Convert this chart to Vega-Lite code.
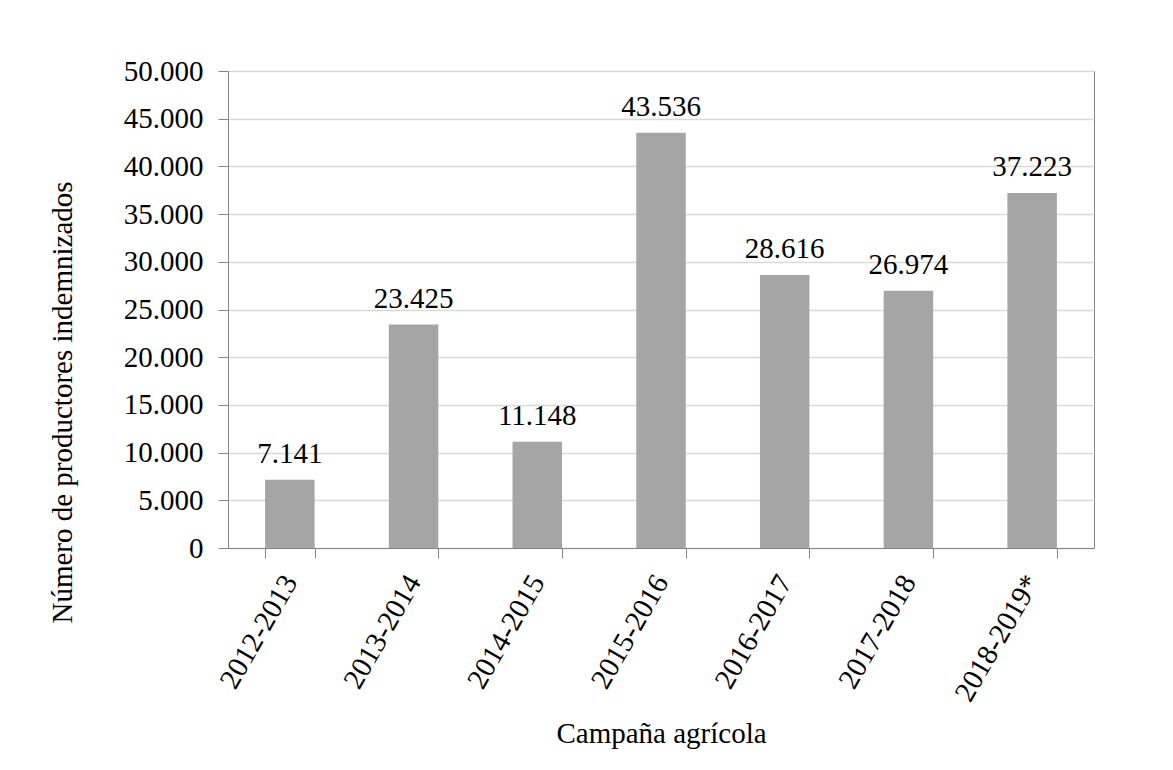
{
  "$schema": "https://vega.github.io/schema/vega-lite/v6.json",
  "width": 866,
  "height": 477,
  "autosize": {"type": "none"},
  "padding": {"left": 228, "top": 71, "right": 79, "bottom": 222},
  "background": "white",
  "data": {
    "values": [
      {"campana": "2012-2013", "productores": 7141},
      {"campana": "2013-2014", "productores": 23425},
      {"campana": "2014-2015", "productores": 11148},
      {"campana": "2015-2016", "productores": 43536},
      {"campana": "2016-2017", "productores": 28616},
      {"campana": "2017-2018", "productores": 26974},
      {"campana": "2018-2019*", "productores": 37223}
    ]
  },
  "encoding": {
    "x": {
      "field": "campana",
      "type": "nominal",
      "sort": null,
      "scale": {"paddingInner": 0.6, "paddingOuter": 0.3},
      "axis": {
        "title": "Campaña agrícola",
        "labelAngle": -60,
        "labelAlign": "right",
        "labelBaseline": "middle",
        "labelPadding": 19,
        "tickBand": "extent",
        "tickSize": 10,
        "titleX": 433,
        "titleY": 185,
        "titleAlign": "center",
        "titleBaseline": "middle"
      }
    },
    "y": {
      "field": "productores",
      "type": "quantitative",
      "scale": {"domain": [0, 50000], "nice": false},
      "axis": {
        "title": "Número de productores indemnizados",
        "values": [0, 5000, 10000, 15000, 20000, 25000, 30000, 35000, 40000, 45000, 50000],
        "format": ",.0f",
        "grid": true,
        "tickSize": 10,
        "labelPadding": 15,
        "titleX": -166,
        "titleY": 331,
        "titleAngle": -90,
        "titleAlign": "center",
        "titleBaseline": "middle"
      }
    }
  },
  "layer": [
    {"mark": {"type": "bar", "color": "#a5a5a5"}},
    {
      "mark": {"type": "text", "baseline": "alphabetic", "dy": -17, "color": "#000000", "font": "Liberation Serif", "fontSize": 29},
      "encoding": {"text": {"field": "productores", "type": "quantitative", "format": ",.0f"}}
    }
  ],
  "config": {
    "locale": {"number": {"decimal": ",", "thousands": ".", "grouping": [3], "currency": ["", " €"]}},
    "view": {"stroke": "#868686", "strokeWidth": 1},
    "axis": {
      "domainColor": "#868686",
      "tickColor": "#868686",
      "gridColor": "#d9d9d9",
      "gridWidth": 1.5,
      "labelFont": "Liberation Serif",
      "labelFontSize": 29,
      "labelColor": "#000000",
      "titleFont": "Liberation Serif",
      "titleFontSize": 29,
      "titleFontWeight": "normal",
      "titleColor": "#000000"
    },
    "axisX": {"grid": false}
  }
}
